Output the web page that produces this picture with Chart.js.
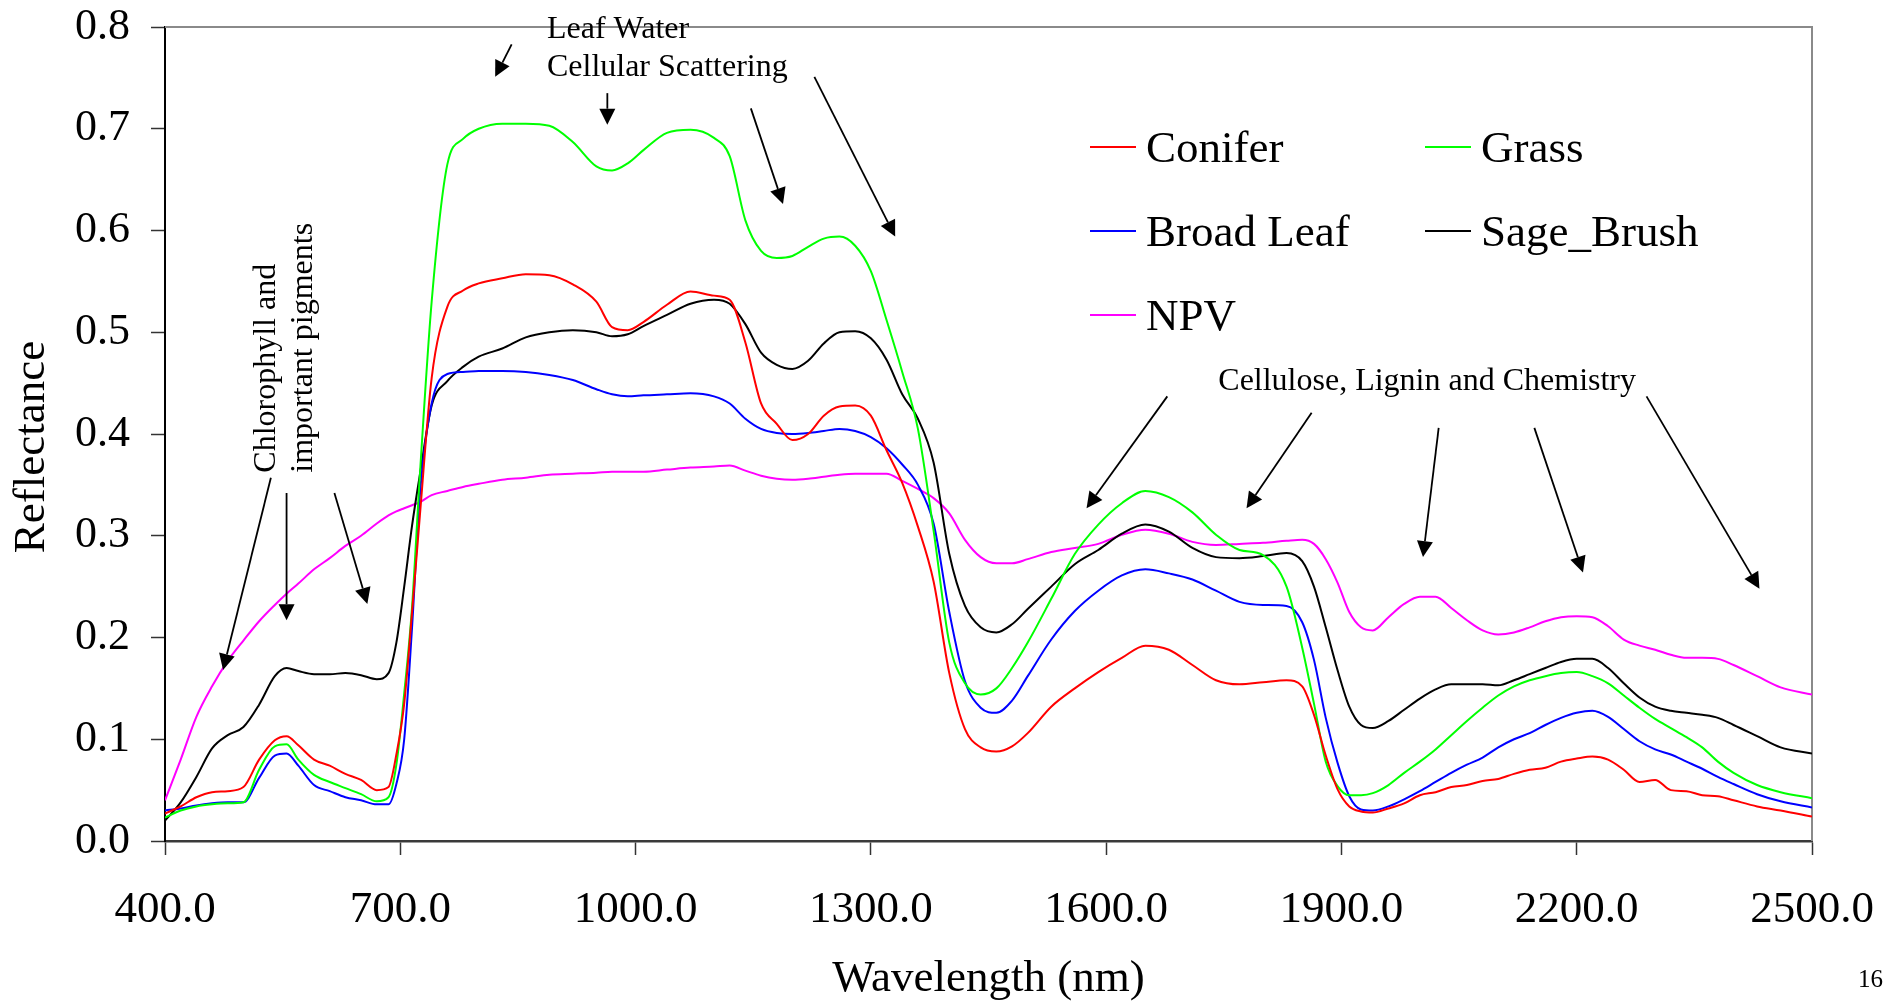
<!DOCTYPE html>
<html><head><meta charset="utf-8">
<script src="https://cdn.jsdelivr.net/npm/chart.js@4.4.1/dist/chart.umd.min.js"></script>
<style>html,body{margin:0;padding:0;background:#fff;overflow:hidden}canvas{display:block}</style>
</head><body>
<canvas id="c" width="1894" height="1002"></canvas>
<script>
// ---------- DATA ----------
const wavelengths = [400,420,440,460,480,500,520,540,555,570,590,610,630,650,670,685,695,705,715,725,740,760,780,800,830,860,890,920,950,970,990,1010,1040,1070,1100,1120,1140,1160,1180,1200,1220,1240,1260,1280,1300,1320,1340,1360,1380,1400,1420,1440,1460,1480,1500,1530,1560,1590,1620,1650,1680,1710,1740,1770,1800,1830,1850,1865,1880,1895,1910,1925,1940,1960,1980,2000,2020,2040,2060,2080,2100,2120,2140,2160,2180,2200,2220,2240,2260,2280,2300,2320,2340,2360,2380,2400,2430,2460,2500];

const conifer = [.027,.034,.043,.048,.049,.053,.080,.099,.103,.094,.080,.074,.066,.060,.050,.053,.085,.135,.225,.320,.455,.525,.541,.548,.553,.557,.556,.547,.530,.505,.502,.510,.527,.540,.536,.532,.490,.430,.410,.394,.400,.418,.427,.428,.418,.384,.352,.309,.255,.165,.110,.092,.088,.093,.106,.132,.150,.166,.180,.192,.188,.173,.158,.154,.156,.158,.152,.124,.084,.051,.034,.029,.028,.032,.037,.045,.048,.053,.055,.059,.061,.066,.070,.072,.078,.081,.083,.080,.070,.058,.060,.050,.049,.045,.044,.040,.034,.030,.024];

const grass = [.023,.030,.034,.036,.037,.038,.070,.093,.095,.080,.065,.058,.052,.046,.039,.043,.075,.145,.230,.360,.530,.665,.690,.700,.705,.705,.703,.687,.663,.659,.666,.679,.696,.699,.691,.673,.610,.580,.573,.575,.584,.592,.594,.585,.560,.512,.461,.405,.305,.195,.155,.144,.150,.170,.195,.238,.282,.311,.332,.344,.338,.323,.301,.286,.281,.250,.190,.135,.078,.054,.045,.045,.047,.055,.067,.078,.090,.104,.118,.131,.143,.152,.158,.162,.165,.166,.162,.155,.143,.131,.120,.111,.102,.092,.078,.067,.055,.048,.042];

const broadLeaf = [.030,.032,.035,.037,.038,.038,.062,.084,.086,.074,.055,.049,.043,.040,.036,.036,.056,.100,.210,.340,.430,.459,.461,.462,.462,.461,.458,.453,.444,.439,.437,.438,.439,.440,.437,.430,.415,.405,.401,.400,.401,.403,.405,.403,.397,.386,.370,.350,.312,.225,.157,.131,.126,.138,.162,.198,.226,.246,.261,.267,.263,.257,.246,.235,.232,.231,.215,.178,.121,.077,.044,.031,.030,.034,.041,.049,.058,.067,.075,.082,.092,.100,.106,.114,.121,.126,.128,.122,.110,.098,.090,.085,.078,.071,.063,.056,.046,.039,.033];

const sageBrush = [.020,.038,.063,.091,.104,.112,.134,.162,.170,.167,.164,.164,.165,.163,.159,.165,.195,.250,.310,.360,.428,.452,.466,.476,.484,.495,.500,.502,.500,.496,.498,.506,.517,.528,.532,.528,.508,.480,.468,.464,.472,.489,.500,.501,.494,.473,.439,.415,.372,.282,.231,.210,.205,.213,.228,.250,.272,.286,.302,.311,.304,.288,.279,.278,.280,.283,.275,.250,.210,.168,.132,.114,.111,.118,.129,.140,.149,.154,.154,.154,.153,.158,.164,.170,.176,.179,.179,.170,.155,.141,.132,.128,.126,.124,.121,.114,.103,.092,.086];

const npv = [.040,.080,.122,.152,.177,.197,.216,.232,.243,.253,.267,.278,.290,.300,.312,.320,.324,.327,.330,.333,.340,.344,.348,.351,.355,.357,.360,.361,.362,.363,.363,.363,.365,.367,.368,.369,.364,.359,.356,.355,.356,.358,.360,.361,.361,.361,.354,.346,.337,.322,.296,.279,.273,.273,.277,.284,.288,.292,.301,.306,.302,.294,.291,.292,.293,.295,.296,.292,.277,.254,.225,.210,.207,.220,.233,.240,.240,.229,.217,.207,.203,.205,.210,.216,.220,.221,.220,.211,.198,.192,.188,.183,.180,.180,.179,.173,.162,.151,.144];

const seriesNames = ['Conifer', 'Grass', 'Broad Leaf', 'Sage_Brush', 'NPV'];
const seriesValues = [conifer, grass, broadLeaf, sageBrush, npv];
const seriesColors = ['#FF0000', '#00FF00', '#0000FF', '#000000', '#FF00FF'];

const xTickValues = [400, 700, 1000, 1300, 1600, 1900, 2200, 2500];
const yTickValues = [0, 0.1, 0.2, 0.3, 0.4, 0.5, 0.6, 0.7, 0.8];

const xTitle = 'Wavelength (nm)';
const yTitle = 'Reflectance';
const pageNumber = '16';

// annotation arrows in data units: [fromWavelength, fromReflectance, toWavelength, toReflectance]
const annotationArrows = [
  [535, 0.357, 474, 0.168], [555, 0.342, 555, 0.217], [616, 0.342, 658, 0.233],
  [842, 0.783, 821, 0.751], [964, 0.735, 964, 0.704], [1147, 0.720, 1188, 0.626], [1228, 0.751, 1331, 0.594],
  [1678, 0.437, 1575, 0.327], [1862, 0.421, 1779, 0.327], [2024, 0.406, 2004, 0.279],
  [2146, 0.406, 2208, 0.264], [2289, 0.437, 2433, 0.248]
];
// annotation labels anchored in data units
const annotationLabels = [
  { text: 'Leaf Water', x: 887, y: 0.789, rotate: false },
  { text: 'Cellular Scattering', x: 887, y: 0.752, rotate: false },
  { text: 'Cellulose, Lignin and Chemistry', x: 1743, y: 0.443, rotate: false },
  { text: 'Chlorophyll and', x: 540, y: 0.362, rotate: true },
  { text: 'important pigments', x: 587, y: 0.362, rotate: true }
];

// ---------- STYLE ----------
const FONT = '"Liberation Serif", "Times New Roman", serif';

const datasets = seriesNames.map((name, i) => ({
  label: name,
  data: wavelengths.map((w, j) => ({ x: w, y: seriesValues[i][j] })),
  borderColor: seriesColors[i],
  backgroundColor: seriesColors[i],
  borderWidth: 2,
  pointRadius: 0,
  fill: false,
  cubicInterpolationMode: 'monotone'
}));

const framePlugin = {
  id: 'frame',
  beforeDatasetsDraw(chart) {
    const { ctx, chartArea: a } = chart;
    ctx.save();
    ctx.strokeStyle = '#8a8a8a';
    ctx.lineWidth = 2;
    ctx.beginPath();
    ctx.moveTo(a.left, a.top);
    ctx.lineTo(a.right, a.top);
    ctx.lineTo(a.right, a.bottom);
    ctx.stroke();
    ctx.restore();
  }
};

function drawArrow(ctx, x1, y1, x2, y2) {
  const ang = Math.atan2(y2 - y1, x2 - x1);
  const L = 16, H = 8;
  const bx = x2 - L * Math.cos(ang), by = y2 - L * Math.sin(ang);
  ctx.beginPath();
  ctx.moveTo(x1, y1);
  ctx.lineTo(bx, by);
  ctx.stroke();
  ctx.beginPath();
  ctx.moveTo(x2, y2);
  ctx.lineTo(bx + H * Math.sin(ang), by - H * Math.cos(ang));
  ctx.lineTo(bx - H * Math.sin(ang), by + H * Math.cos(ang));
  ctx.closePath();
  ctx.fill();
}

const annotationPlugin = {
  id: 'annotations',
  afterDatasetsDraw(chart) {
    const { ctx, chartArea: a } = chart;
    const xs = chart.scales.x, ys = chart.scales.y;
    ctx.save();
    ctx.strokeStyle = '#000';
    ctx.fillStyle = '#000';
    ctx.lineWidth = 1.8;
    annotationArrows.forEach(([p, q, r, s]) => {
      drawArrow(ctx, xs.getPixelForValue(p), ys.getPixelForValue(q), xs.getPixelForValue(r), ys.getPixelForValue(s));
    });
    ctx.font = '32px ' + FONT;
    ctx.textAlign = 'left';
    ctx.textBaseline = 'alphabetic';
    annotationLabels.forEach(l => {
      const px = xs.getPixelForValue(l.x), py = ys.getPixelForValue(l.y);
      if (l.rotate) {
        ctx.save();
        ctx.translate(px, py);
        ctx.rotate(-Math.PI / 2);
        ctx.fillText(l.text, 0, 0);
        ctx.restore();
      } else {
        ctx.fillText(l.text, px, py);
      }
    });
    // y-axis title
    ctx.save();
    ctx.font = '45px ' + FONT;
    ctx.textAlign = 'center';
    ctx.textBaseline = 'middle';
    ctx.translate(32, (a.top + a.bottom) / 2 + 13);
    ctx.rotate(-Math.PI / 2);
    ctx.fillText(yTitle, 0, 0);
    ctx.restore();
    ctx.restore();
  }
};

const legendPlugin = {
  id: 'gridLegend',
  afterDraw(chart) {
    const { ctx } = chart;
    const col0 = 1090, colStep = 335, row0 = 147, rowStep = 84, lineLen = 46, gap = 10;
    ctx.save();
    ctx.font = '45px ' + FONT;
    ctx.textBaseline = 'alphabetic';
    ctx.textAlign = 'left';
    chart.data.datasets.forEach((ds, i) => {
      const x = col0 + (i % 2) * colStep;
      const y = row0 + Math.floor(i / 2) * rowStep;
      ctx.strokeStyle = ds.borderColor;
      ctx.lineWidth = 2;
      ctx.beginPath();
      ctx.moveTo(x, y);
      ctx.lineTo(x + lineLen, y);
      ctx.stroke();
      ctx.fillStyle = '#000';
      ctx.fillText(ds.label, x + lineLen + gap, y + 15);
    });
    ctx.font = '25px ' + FONT;
    ctx.fillText(pageNumber, chart.width - 36, 987);
    ctx.restore();
  }
};

function zeroPad(s) { s.paddingTop = 0; s.paddingBottom = 0; s.paddingLeft = 0; s.paddingRight = 0; }

new Chart(document.getElementById('c'), {
  type: 'line',
  data: { datasets },
  options: {
    responsive: false,
    animation: false,
    events: [],
    layout: { padding: { top: 27, right: 82, left: 0, bottom: 0 } },
    plugins: { legend: { display: false }, tooltip: { enabled: false } },
    scales: {
      x: {
        type: 'linear',
        min: 400, max: 2500,
        afterBuildTicks: s => { s.ticks = xTickValues.map(v => ({ value: v })); },
        afterFit: s => { s.height = 161; zeroPad(s); },
        ticks: {
          callback: v => Number(v).toFixed(1),
          color: '#000',
          font: { family: FONT, size: 45 },
          padding: 28,
          maxRotation: 0,
          autoSkip: false
        },
        grid: { drawOnChartArea: false, drawTicks: true, tickLength: 14, tickColor: '#333', tickWidth: 1.5 },
        border: { display: true, color: '#3a3a3a', width: 2.5 },
        title: { display: true, text: xTitle, color: '#000', font: { family: FONT, size: 45, lineHeight: 1 }, padding: { top: 0, bottom: 0 } }
      },
      y: {
        type: 'linear',
        min: 0, max: 0.8,
        afterBuildTicks: s => { s.ticks = yTickValues.map(v => ({ value: v })); },
        afterFit: s => { s.width = 165; zeroPad(s); },
        ticks: {
          callback: v => Number(v).toFixed(1),
          color: '#000',
          font: { family: FONT, size: 44 },
          padding: 21,
          autoSkip: false
        },
        grid: { drawOnChartArea: false, drawTicks: true, tickLength: 14, tickColor: '#333', tickWidth: 1.5 },
        border: { display: true, color: '#000', width: 2 },
        title: { display: false }
      }
    }
  },
  plugins: [framePlugin, annotationPlugin, legendPlugin]
});
</script>
</body></html>
